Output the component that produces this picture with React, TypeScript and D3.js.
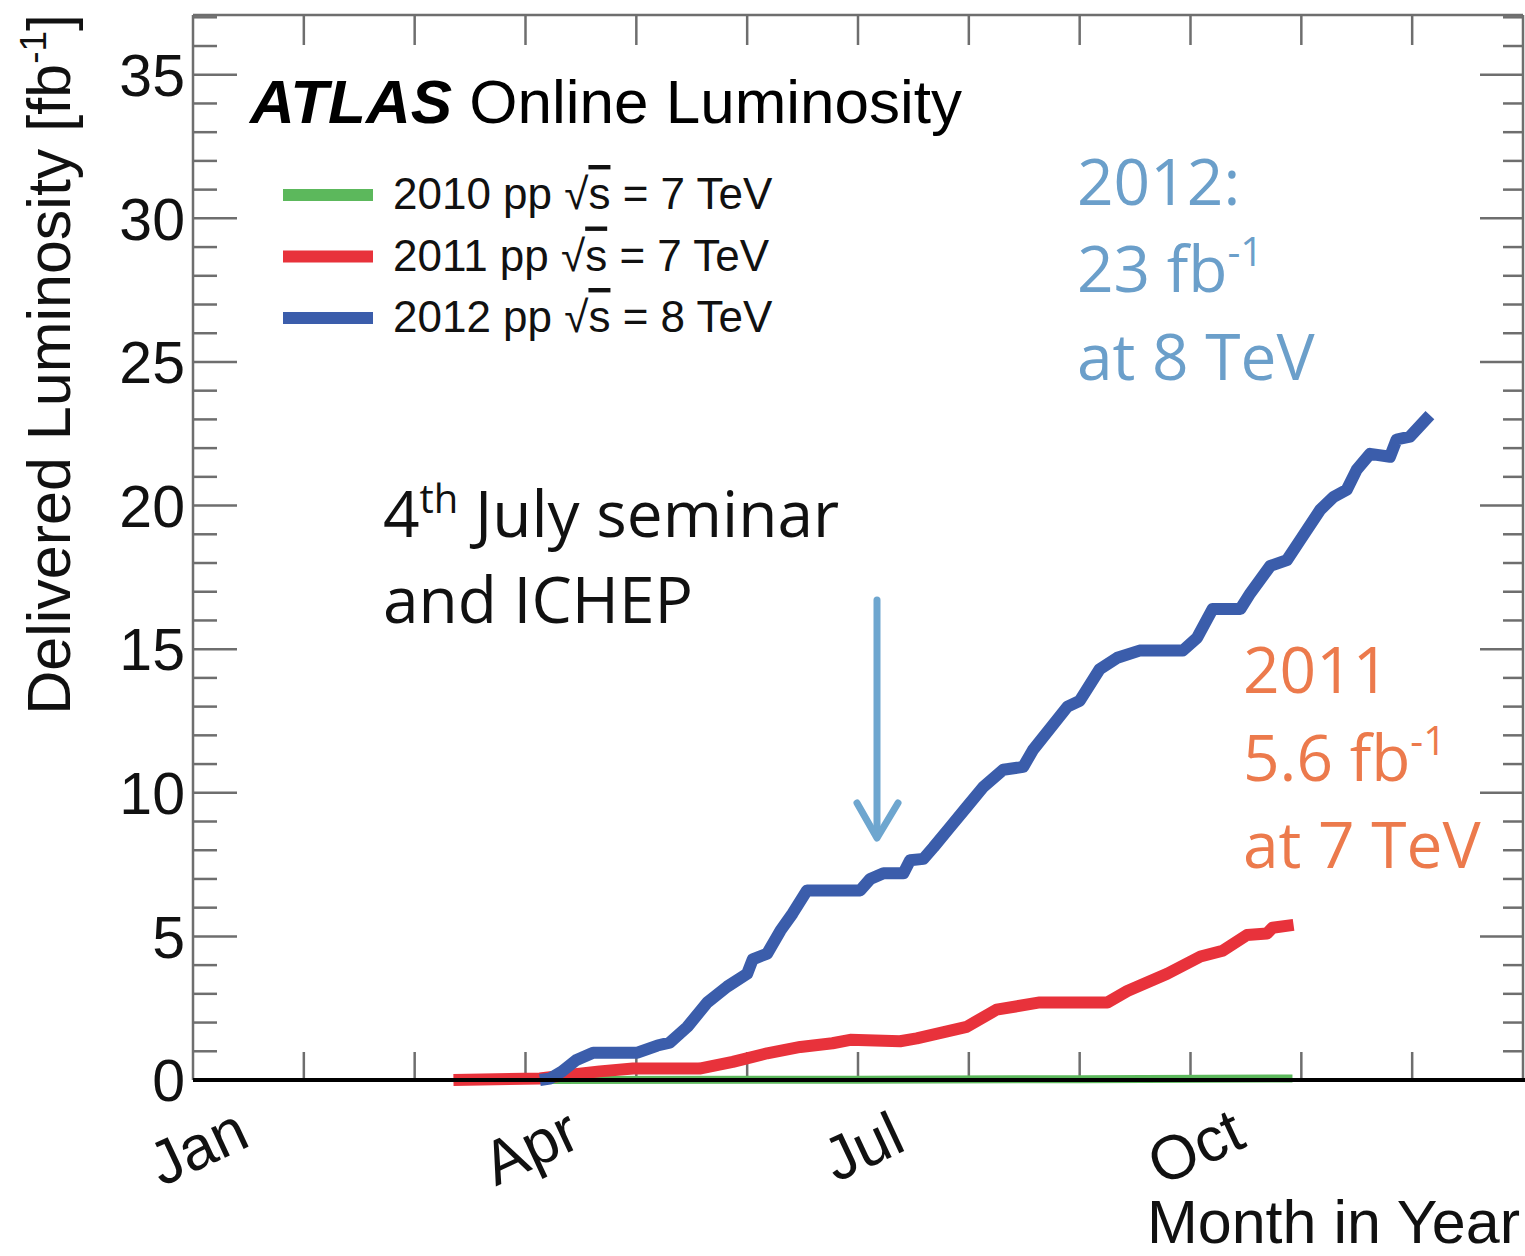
import React from "react";
import * as d3 from "d3";

// months since Jan 1 (0..12) and delivered luminosity [fb^-1]
const months2012 = [3.13, 3.22, 3.33, 3.46, 3.61, 4.01, 4.19, 4.30, 4.46, 4.64, 4.82, 5.00, 5.05, 5.18, 5.30, 5.41, 5.54, 6.02, 6.11, 6.23, 6.41, 6.47, 6.59, 6.68, 6.83, 6.98, 7.13, 7.31, 7.49, 7.58, 7.89, 8.00, 8.18, 8.34, 8.54, 8.93, 9.06, 9.20, 9.45, 9.54, 9.72, 9.87, 9.99, 10.17, 10.29, 10.41, 10.50, 10.62, 10.80, 10.86, 10.98, 11.16];
const lumi2012 = [0, 0.05, 0.3, 0.7, 0.95, 0.95, 1.2, 1.3, 1.85, 2.7, 3.25, 3.7, 4.2, 4.4, 5.2, 5.8, 6.6, 6.6, 7.0, 7.2, 7.2, 7.65, 7.7, 8.1, 8.8, 9.5, 10.2, 10.8, 10.9, 11.5, 13.0, 13.2, 14.3, 14.7, 14.95, 14.95, 15.4, 16.4, 16.4, 16.95, 17.9, 18.1, 18.8, 19.85, 20.3, 20.55, 21.25, 21.8, 21.7, 22.3, 22.4, 23.15];

const months2011 = [2.35, 3.13, 3.37, 3.67, 3.97, 4.57, 4.87, 5.18, 5.48, 5.77, 5.93, 6.38, 6.53, 6.98, 7.25, 7.64, 8.25, 8.43, 8.79, 9.09, 9.29, 9.51, 9.69, 9.74, 9.93];
const lumi2011 = [0, 0.05, 0.17, 0.3, 0.4, 0.4, 0.63, 0.93, 1.15, 1.28, 1.4, 1.35, 1.45, 1.85, 2.45, 2.7, 2.7, 3.1, 3.7, 4.3, 4.5, 5.05, 5.1, 5.3, 5.4];

const months2010 = [3.13, 6.0, 8.0, 9.92];
const lumi2010 = [0, 0.01, 0.03, 0.05];

const monthLabels = [
  { m: 0, label: "Jan" },
  { m: 3, label: "Apr" },
  { m: 6, label: "Jul" },
  { m: 9, label: "Oct" },
];
const yTickLabels = [0, 5, 10, 15, 20, 25, 30, 35];

const legendItems = [
  { year: "2010", energy: "7", color: "#5cb85c" },
  { year: "2011", energy: "7", color: "#e8323b" },
  { year: "2012", energy: "8", color: "#3b5dab" },
];

const W = 1525;
const H = 1256;
const X0 = 193;
const X1 = 1523;
const Y0 = 1080;
const YTOP = 15;

const helv = "'Liberation Sans', Arial, Helvetica, sans-serif";
const cal = "'Open Sans', 'Lato', sans-serif";

export default function App() {
  const x = d3.scaleLinear().domain([0, 12]).range([X0, X1]);
  const y = d3.scaleLinear().domain([0, 37.08]).range([Y0, YTOP]);
  const line = d3
    .line<[number, number]>()
    .x((d) => x(d[0]))
    .y((d) => y(d[1]));

  const d2012 = months2012.map((m, i) => [m, lumi2012[i]] as [number, number]);
  const d2011 = months2011.map((m, i) => [m, lumi2011[i]] as [number, number]);
  const d2010 = months2010.map((m, i) => [m, lumi2010[i]] as [number, number]);

  const monthTicks = d3.range(1, 12);
  const minorY = d3.range(0, 38).filter((v) => v % 5 !== 0 && y(v) > YTOP);
  const majorY = yTickLabels.filter((v) => v > 0);

  const axisGray = "#6e6e6e";

  return (
    <svg
      width={W}
      height={H}
      style={{ position: "absolute", left: 0, top: 0, background: "#fff" }}
    >
      <rect x={0} y={0} width={W} height={H} fill="#fff" />

      {/* frame */}
      <line x1={X0} x2={X1} y1={YTOP} y2={YTOP} stroke={axisGray} strokeWidth={2.5} />
      <line x1={X0} x2={X0} y1={YTOP} y2={Y0} stroke={axisGray} strokeWidth={2.5} />
      <line x1={X1} x2={X1} y1={YTOP} y2={Y0} stroke={axisGray} strokeWidth={2.5} />

      {/* month ticks top and bottom */}
      {monthTicks.map((m) => (
        <g key={"mt" + m}>
          <line x1={x(m)} x2={x(m)} y1={YTOP} y2={YTOP + 30} stroke={axisGray} strokeWidth={2.5} />
          <line x1={x(m)} x2={x(m)} y1={Y0} y2={Y0 - 28} stroke={axisGray} strokeWidth={2.5} />
        </g>
      ))}

      {/* y ticks left/right */}
      {minorY.map((v) => (
        <g key={"my" + v}>
          <line x1={X0} x2={X0 + 24} y1={y(v)} y2={y(v)} stroke={axisGray} strokeWidth={2.5} />
          <line x1={X1} x2={X1 - 20} y1={y(v)} y2={y(v)} stroke={axisGray} strokeWidth={2.5} />
        </g>
      ))}
      {majorY.map((v) => (
        <g key={"My" + v}>
          <line x1={X0} x2={X0 + 44} y1={y(v)} y2={y(v)} stroke={axisGray} strokeWidth={2.5} />
          <line x1={X1} x2={X1 - 43} y1={y(v)} y2={y(v)} stroke={axisGray} strokeWidth={2.5} />
        </g>
      ))}

      {/* y tick labels */}
      {yTickLabels.map((v) => (
        <text
          key={"yl" + v}
          x={185}
          y={y(v)}
          dy="0.36em"
          textAnchor="end"
          fontFamily={helv}
          fontSize={59}
          fill="#111"
        >
          {v}
        </text>
      ))}

      {/* month labels */}
      {monthLabels.map((d) => (
        <text
          key={d.label}
          transform={`translate(${x(d.m) + 14},${1166}) rotate(-25)`}
          textAnchor="middle"
          fontFamily={helv}
          fontSize={62}
          fill="#111"
        >
          {d.label}
        </text>
      ))}

      {/* axis titles */}
      <text
        transform={`translate(70,14) rotate(-90)`}
        textAnchor="end"
        fontFamily={helv}
        fontSize={61}
        fill="#111"
      >
        Delivered Luminosity [fb
        <tspan fontSize={37} dy={-24}>-1</tspan>
        <tspan dy={24}>]</tspan>
      </text>
      <text x={1520} y={1243} textAnchor="end" fontFamily={helv} fontSize={61} fill="#111">
        Month in Year
      </text>

      {/* curves */}
      <path d={line(d2010) || ""} fill="none" stroke="#5cb85c" strokeWidth={8} strokeLinejoin="round" />
      <path d={line(d2011) || ""} fill="none" stroke="#e8323b" strokeWidth={12} strokeLinejoin="round" />
      <path d={line(d2012) || ""} fill="none" stroke="#3b5dab" strokeWidth={12} strokeLinejoin="round" />

      {/* zero line */}
      <line x1={X0} x2={W} y1={Y0} y2={Y0} stroke="#000" strokeWidth={4} />

      {/* ATLAS label */}
      <text x={250} y={123} fontFamily={helv} fontSize={62} fill="#000">
        <tspan fontWeight="bold" fontStyle="italic">ATLAS</tspan>
        <tspan> Online Luminosity</tspan>
      </text>

      {/* legend */}
      {legendItems.map((it, i) => {
        const cy = 195 + i * 61.5;
        return (
          <g key={it.year}>
            <line x1={283} x2={373} y1={cy} y2={cy} stroke={it.color} strokeWidth={12} />
            <text x={393} y={cy + 14} fontFamily={helv} fontSize={44} fill="#111">
              {it.year} pp √<tspan style={{ textDecoration: "overline" }}>s</tspan> = {it.energy} TeV
            </text>
          </g>
        );
      })}

      {/* annotation: 4th July */}
      <text x={383} y={537} fontFamily={cal} fontSize={64} fill="#111">
        4<tspan fontSize={40} dy={-24}>th</tspan>
        <tspan dy={24}> July seminar</tspan>
      </text>
      <text x={383} y={623} fontFamily={cal} fontSize={64} fill="#111">
        and ICHEP
      </text>
      <g stroke="#6ea6cf" strokeWidth={7} fill="none" strokeLinecap="round" strokeLinejoin="round">
        <line x1={877} x2={877} y1={600} y2={836} />
        <polyline points="857,803 877,838 898,803" />
      </g>

      {/* 2012 annotation */}
      <g fontFamily={cal} fontSize={64} fill="#6b9fca">
        <text x={1077} y={205}>2012:</text>
        <text x={1077} y={292}>
          23 fb<tspan fontSize={40} dy={-26}>-1</tspan>
        </text>
        <text x={1077} y={380}>at 8 TeV</text>
      </g>

      {/* 2011 annotation */}
      <g fontFamily={cal} fontSize={64} fill="#ec7a4c">
        <text x={1243} y={693}>2011</text>
        <text x={1243} y={781}>
          5.6 fb<tspan fontSize={40} dy={-26}>-1</tspan>
        </text>
        <text x={1243} y={868}>at 7 TeV</text>
      </g>
    </svg>
  );
}
